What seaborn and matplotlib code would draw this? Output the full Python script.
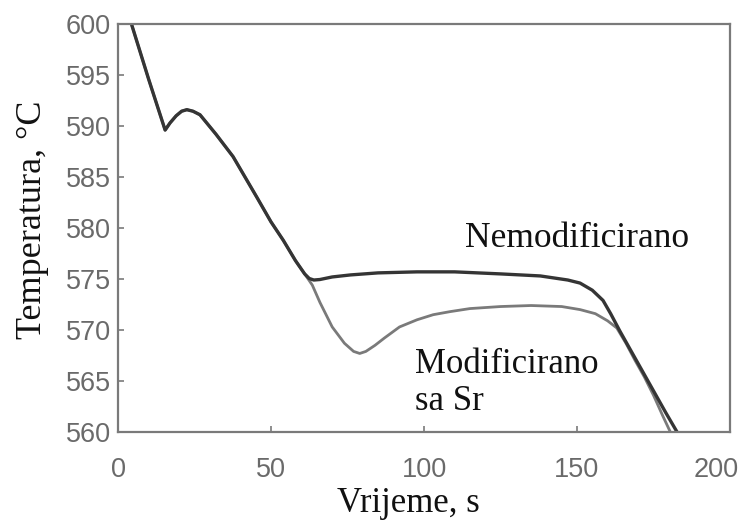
import matplotlib
matplotlib.use("Agg")
import matplotlib.pyplot as plt
from matplotlib.transforms import ScaledTranslation
import numpy as np
import pandas as pd
import seaborn as sns

# Cooling curves of the Al-Si alloy, temperature vs. time
time_nemod = [4.5, 10, 15.4, 17, 19, 20.8, 22.5, 24.5, 26.8, 32, 37.6, 45.4, 50, 54,
              58, 61, 62.5, 64, 66, 70, 76, 85, 97.7, 110, 125, 138, 147, 151, 155,
              158.5, 161, 164, 167, 170, 173, 176, 179, 182.7]
temp_nemod = [599.9, 594.6, 589.6, 590.3, 591.0, 591.45, 591.6, 591.45, 591.1, 589.2,
              587.0, 583.0, 580.6, 578.8, 576.8, 575.5, 575.05, 574.9, 574.95, 575.2,
              575.4, 575.6, 575.7, 575.7, 575.5, 575.3, 574.9, 574.6, 573.9, 572.9,
              571.6, 569.9, 568.3, 566.7, 565.1, 563.5, 561.9, 560.0]

time_mod = [4.5, 10, 15.4, 17, 19, 20.8, 22.5, 24.5, 26.8, 32, 37.6, 45.4, 50, 54, 58,
            61, 63.5, 66, 70, 74, 77, 79, 81, 84, 87, 92, 97.7, 103, 108.5, 115, 125,
            135, 145, 151, 156, 160, 163, 166, 169, 172, 175, 178, 180.5]
temp_mod = [599.9, 594.6, 589.6, 590.3, 591.0, 591.45, 591.6, 591.45, 591.1, 589.2,
            587.0, 583.0, 580.6, 578.8, 576.8, 575.5, 574.4, 572.7, 570.3, 568.7,
            567.9, 567.7, 567.9, 568.5, 569.2, 570.3, 571.0, 571.5, 571.8, 572.1,
            572.3, 572.4, 572.3, 572.0, 571.6, 570.9, 570.2, 568.7, 567.0, 565.4,
            563.6, 561.6, 560.0]

x_ticks = [0, 50, 100, 150, 200]
y_ticks = [560, 565, 570, 575, 580, 585, 590, 595, 600]

label_nemod = "Nemodificirano"
label_mod = "Modificirano\nsa Sr"
x_label = "Vrijeme, s"
y_label = "Temperatura, \u00b0C"

df_nemod = pd.DataFrame({"t": time_nemod, "T": temp_nemod})
df_mod = pd.DataFrame({"t": time_mod, "T": temp_mod})

sns.set_style("white")
plt.rcParams["font.family"] = ["Liberation Sans", "DejaVu Sans"]

fig = plt.figure(figsize=(7.42, 5.24), dpi=100)
ax = fig.add_axes([118 / 742, 92 / 524, 612 / 742, 408 / 524])

sns.lineplot(data=df_mod, x="t", y="T", ax=ax, sort=False, color="#7a7a7a",
             linewidth=2.0, estimator=None)
sns.lineplot(data=df_nemod, x="t", y="T", ax=ax, sort=False, color="#353535",
             linewidth=2.4, estimator=None)

ax.set_xlim(0, 200)
ax.set_ylim(560, 600)
ax.set_xticks(x_ticks)
ax.set_yticks(y_ticks)

spine_color = "#7a7a7a"
for s in ax.spines.values():
    s.set_visible(True)
    s.set_color(spine_color)
    s.set_linewidth(1.6)

ax.tick_params(axis="both", direction="in", length=4, width=1.2, color=spine_color,
               labelcolor="#6a6a6a", labelsize=19.5)
ax.tick_params(axis="y", pad=5, left=True)
ax.tick_params(axis="x", pad=18, bottom=True)

# the last x label sits just inside the figure edge
lab = ax.get_xticklabels()[-1]
lab.set_transform(lab.get_transform() + ScaledTranslation(-14 / 100, 0, fig.dpi_scale_trans))

serif = ["Liberation Serif", "DejaVu Serif"]
ax.set_xlabel(x_label, family=serif, fontsize=25, color="#111111")
ax.set_ylabel(y_label, family=serif, fontsize=26, color="#111111")
ax.xaxis.set_label_coords(0.474, -0.135)
ax.yaxis.set_label_coords(-0.112, 0.52)

ax.text(113.4, 578.1, label_nemod, family=serif, fontsize=25.5, color="#111111",
        va="baseline", ha="left")
ax.text(97.0, 562.2, label_mod, family=serif, fontsize=25, color="#111111",
        va="baseline", ha="left", linespacing=1.15)

fig.savefig("out.png", dpi=100)
